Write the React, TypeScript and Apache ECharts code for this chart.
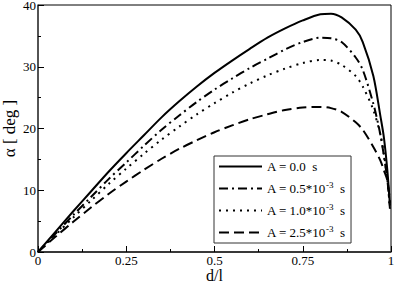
import React, { useEffect, useRef } from "react";
import * as echarts from "echarts";

const dValues = [0, 0.05, 0.1, 0.15, 0.2, 0.25, 0.3, 0.35, 0.4, 0.45, 0.5, 0.55, 0.6, 0.65, 0.7, 0.75, 0.8, 0.83, 0.86, 0.9, 0.92, 0.95, 0.97, 0.98, 0.99, 0.997];
const alphaA00 = [0, 3.3, 6.6, 9.8, 13.0, 16.0, 18.9, 21.8, 24.4, 26.8, 29.0, 31.0, 32.9, 34.7, 36.2, 37.5, 38.5, 38.6, 38.0, 36.0, 34.0, 28.5, 22.0, 18.5, 13.0, 7.5];
const alphaA05 = [0, 3.0, 6.0, 8.9, 11.8, 14.5, 17.2, 19.8, 22.1, 24.3, 26.3, 28.1, 29.8, 31.3, 32.8, 34.0, 34.7, 34.6, 34.0, 31.5, 29.5, 24.0, 19.0, 15.5, 11.5, 7.0];
const alphaA10 = [0, 2.8, 5.6, 8.3, 11.0, 13.5, 15.9, 18.2, 20.3, 22.3, 24.1, 25.8, 27.3, 28.6, 29.7, 30.6, 31.1, 31.0, 30.3, 28.5, 26.8, 23.0, 19.0, 15.8, 11.5, 7.0];
const alphaA25 = [0, 2.5, 4.9, 7.2, 9.4, 11.4, 13.3, 15.1, 16.7, 18.1, 19.4, 20.5, 21.5, 22.3, 23.0, 23.4, 23.5, 23.3, 22.7, 21.0, 19.8, 17.0, 14.8, 13.2, 11.5, 8.0];

const seriesNames = ["A = 0.0  s", "A = 0.5*10^-3  s", "A = 1.0*10^-3  s", "A = 2.5*10^-3  s"];
const xTickLabels = ["0", "0.25", "0.5", "0.75", "1"];

const FONT = "Liberation Serif, Times New Roman, serif";

export default function App() {
  const ref = useRef<HTMLDivElement>(null);
  useEffect(() => {
    if (!ref.current) return;
    const chart = echarts.init(ref.current, undefined, { renderer: "svg" });
    const seriesData = [alphaA00, alphaA05, alphaA10, alphaA25];
    const dashes: any[] = ["solid", [9, 4, 2, 4], [2, 5], [10, 5]];
    chart.setOption({
      animation: false,
      backgroundColor: "#ffffff",
      grid: {
        left: 38, right: 4, top: 5, bottom: 31,
        outerBoundsMode: "none",
        containLabel: false,
        show: true, borderColor: "#000", borderWidth: 1, backgroundColor: "transparent",
      },
      legend: {
        orient: "vertical",
        left: 214, top: 156,
        width: 140,
        data: seriesNames,
        itemWidth: 43, itemHeight: 12, itemGap: 7,
        padding: [4, 6, 4, 4],
        borderColor: "#333", borderWidth: 1,
        backgroundColor: "#fff",
        selectedMode: false,
        itemStyle: { color: "transparent", borderWidth: 0, opacity: 0 },
        textStyle: {
          fontFamily: FONT, fontSize: 13, color: "#000",
          rich: {
            n: { fontFamily: FONT, fontSize: 13, color: "#000" },
            sup: { fontFamily: FONT, fontSize: 9, color: "#000", padding: [0, 0, 8, 0] },
          },
        },
        formatter: (name: string) => {
          const m = name.match(/^(.*)\^(\S+)(\s+s)$/);
          if (m) return `{n|${m[1]}}{sup|${m[2]}}{n|${m[3]}}`;
          return `{n|${name}}`;
        },
      },
      xAxis: {
        type: "value", min: 0, max: 1, interval: 0.25,
        name: "d/l", nameLocation: "middle", nameGap: 15, nameMoveOverlap: false,
        nameTextStyle: { fontFamily: FONT, fontSize: 16, color: "#000" },
        axisLine: { lineStyle: { color: "#222", width: 1.5 } },
        axisTick: { inside: true, length: 6, lineStyle: { color: "#000" } },
        minorTick: { show: true, splitNumber: 2, length: 3, lineStyle: { color: "#000" } },
        splitLine: { show: false },
        axisLabel: {
          fontFamily: FONT, fontSize: 13, color: "#000", margin: 2,
          formatter: (v: number) => {
            const idx = Math.round(v / 0.25);
            return xTickLabels[idx] ?? String(v);
          },
        },
      },
      yAxis: {
        type: "value", min: 0, max: 40, interval: 10,
        name: "α [ deg ]", nameLocation: "middle", nameGap: 20, nameMoveOverlap: false,
        nameTextStyle: { fontFamily: FONT, fontSize: 17, color: "#000" },
        axisLine: { show: true, lineStyle: { color: "#444", width: 1.5 } },
        axisTick: { show: true, inside: true, length: 6, lineStyle: { color: "#000" } },
        minorTick: { show: true, splitNumber: 2, length: 3, lineStyle: { color: "#000" } },
        splitLine: { show: false },
        axisLabel: { fontFamily: FONT, fontSize: 13, color: "#000", margin: 2 },
      },
      series: seriesData.map((vals, i) => ({
        name: seriesNames[i],
        type: "line",
        smooth: 0.3,
        showSymbol: false,
        symbol: "none",
        data: dValues.map((d, j) => [d, vals[j]]),
        lineStyle: { color: "#000", width: 2, type: dashes[i] },
        itemStyle: { color: "#000" },
      })),
    });
    return () => chart.dispose();
  }, []);
  return <div ref={ref} style={{ width: 395, height: 283, position: "absolute", left: 0, top: 0 }} />;
}
